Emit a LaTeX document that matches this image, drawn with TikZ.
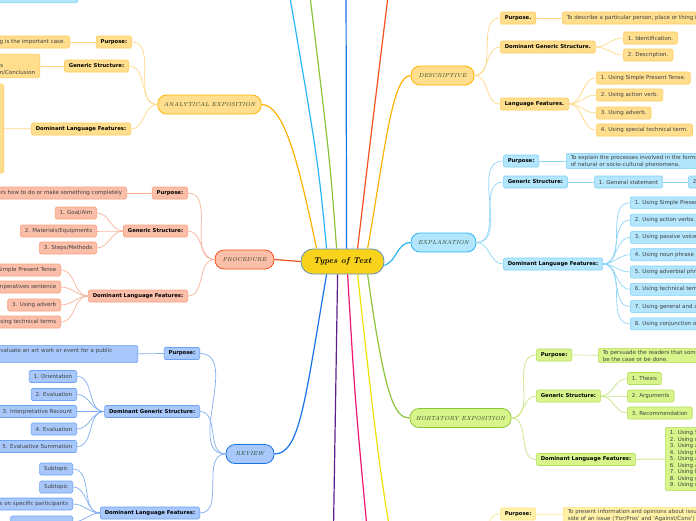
\documentclass[tikz,border=0pt]{standalone}
\usepackage{fontspec}
\newfontfamily\leaffont{DejaVu Sans}
\usetikzlibrary{calc}
% branch colours: F fill, D border, S sub lines, L main line
\definecolor{desF}{HTML}{FFDE8E}\definecolor{desD}{HTML}{FFCB5C}
\definecolor{desS}{HTML}{FFD985}\definecolor{desL}{HTML}{FFB300}
\definecolor{proF}{HTML}{FBBEA8}\definecolor{proD}{HTML}{F8A282}
\definecolor{proS}{HTML}{F9B39A}\definecolor{proL}{HTML}{F4511E}
\definecolor{expF}{HTML}{B3E5FC}\definecolor{expD}{HTML}{7FD2F8}
\definecolor{expS}{HTML}{90D6F8}\definecolor{expL}{HTML}{29B6F6}
\definecolor{horF}{HTML}{D8F58C}\definecolor{horD}{HTML}{B4DE5C}
\definecolor{horS}{HTML}{C6E684}\definecolor{horL}{HTML}{8CC43A}
\definecolor{revF}{HTML}{A8C8FC}\definecolor{revD}{HTML}{6EA2F2}
\definecolor{revS}{HTML}{80AEF2}\definecolor{revL}{HTML}{1A73E8}
\definecolor{disF}{HTML}{FFF2A8}\definecolor{disD}{HTML}{FFE37A}
\definecolor{disS}{HTML}{FFE98E}\definecolor{disL}{HTML}{F2E200}
\definecolor{purL}{HTML}{5B1F8A}\definecolor{pinL}{HTML}{F2146F}
\definecolor{ctrF}{HTML}{F9D31B}\definecolor{ctrD}{HTML}{5A8FBF}
\definecolor{ttl}{HTML}{24401F}
\tikzset{
  leaf/.style={draw=#1D, fill=#1F, rounded corners=1.5pt, line width=0.6pt,
    inner xsep=4.5pt, inner ysep=1.5pt, minimum height=12pt,
    font=\leaffont\fontsize{5.5}{7}\selectfont, text=black!75},
  head/.style={leaf=#1, font=\leaffont\bfseries\fontsize{5.3}{7}\selectfont, text=black},
  branch/.style={draw=#1L, fill=#1F, rounded corners=9pt, line width=0.8pt,
    minimum height=19pt, inner xsep=6pt, font=\itshape\fontsize{5.8}{7}\selectfont, text=ttl},
  sub/.style={draw=#1S, line width=0.7pt},
  main/.style={draw=#1, line width=1.2pt},
}
\begin{document}
\begin{tikzpicture}[x=1pt,y=-1pt]
\useasboundingbox (0,0) rectangle (696,520);
\fill[white] (0,0) rectangle (696,520);
\clip (0,0) rectangle (696,520);

\node[draw=ctrD, fill=ctrF, rounded corners=12pt, line width=0.8pt, minimum width=83pt,
  minimum height=25pt, font=\itshape\bfseries\fontsize{8.5}{10}\selectfont] (ctr) at (342.5,261.5) {Types of Text};

%% branch nodes
\node[branch=des, minimum width=63pt] (dN) at (442.5,75.5) {DESCRIPTIVE};
\node[branch=exp, minimum width=65pt] (eN) at (443.5,242.5) {EXPLANATION};
\node[branch=hor, minimum width=99pt] (hN) at (460.5,418) {HORTATORY EXPOSITION};
\node[branch=des, minimum width=103pt] (aN) at (209.5,104.5) {ANALYTICAL EXPOSITION};
\node[branch=pro, minimum width=59pt] (pN) at (244.5,259.5) {PROCEDURE};
\node[branch=rev, minimum width=48pt] (rN) at (250,454) {REVIEW};

%% nodes beyond the frame
\coordinate (upE) at (287,-20);
\coordinate (upH) at (308,-20);
\coordinate (upR) at (346,-20);
\coordinate (upP) at (390,-20);
\coordinate (dwU) at (333,560);
\coordinate (dwK) at (370,560);
\coordinate (xN) at (411,585);
\node[leaf=exp, anchor=south east, minimum width=100pt, minimum height=20pt] (tl) at (78,3) {};

%% main lines
\draw[main=desL] ([xshift=16pt]ctr.north west) .. controls (300,170) and (285,104.5) .. (aN.east);
\draw[main=expL] ([xshift=26pt]ctr.north west) .. controls (318,160) .. (upE);
\draw[main=horL] ([xshift=36pt]ctr.north west) .. controls (330,160) .. (upH);
\draw[main=revL] ([xshift=46pt]ctr.north west) -- (upR);
\draw[main=proL] ([xshift=57pt]ctr.north west) .. controls (368,160) .. (upP);
\draw[main=desL] ([xshift=67pt]ctr.north west) .. controls (385,150) and (392,75.5) .. (dN.west);
\draw[main=expL] ([yshift=-4pt]ctr.east) to[out=20,in=180] (eN.west);
\draw[main=proL] (ctr.west) -- (pN.east);
\draw[main=revL] ([xshift=26pt]ctr.south west) .. controls (305,400) and (300,454) .. (rN.east);
\draw[main=purL] ([xshift=37pt]ctr.south west) -- (dwU);
\draw[main=pinL] ([xshift=47pt]ctr.south west) .. controls (355,400) .. (dwK);
\draw[main=disL] ([xshift=57pt]ctr.south west) .. controls (378,460) and (392,585) .. (xN);
\draw[main=horL] ([xshift=67pt]ctr.south west) .. controls (385,400) and (395,418) .. (hN.west);

%% DESCRIPTIVE
\node[head=des, anchor=west] (dP) at (500,18) {Purpose.};
\node[leaf=des, anchor=west] (dPt) at (562,18) {To describe a particular person, place or thing in detail.};
\node[head=des, anchor=west] (dG) at (500,47) {Dominant Generic Structure.};
\node[leaf=des, anchor=west] (dG1) at (623,38) {1. Identification.};
\node[leaf=des, anchor=west] (dG2) at (623,55) {2. Description.};
\node[head=des, anchor=west] (dL) at (500,104) {Language Features.};
\node[leaf=des, anchor=west] (dL1) at (596,78) {1. Using Simple Present Tense.};
\node[leaf=des, anchor=west] (dL2) at (596,95) {2. Using action verb.};
\node[leaf=des, anchor=west] (dL3) at (596,113) {3. Using adverb.};
\node[leaf=des, anchor=west] (dL4) at (596,130) {4. Using special technical term.};
\foreach \c in {dP,dG,dL} \draw[sub=des] (dN.east) to[out=0,in=180] (\c.west);
\draw[sub=des] (dP) -- (dPt);
\foreach \c in {dG1,dG2} \draw[sub=des] (dG.east) to[out=0,in=180] (\c.west);
\foreach \c in {dL1,dL2,dL3,dL4} \draw[sub=des] (dL.east) to[out=0,in=180] (\c.west);

%% EXPLANATION
\node[head=exp, anchor=west] (eP) at (503,161) {Purpose:};
\node[leaf=exp, anchor=west, align=left] (ePt) at (566,161) {To explain the processes involved in the formation or workings\\of natural or socio-cultural phenomena.};
\node[head=exp, anchor=west] (eG) at (503,182) {Generic Structure:};
\node[leaf=exp, anchor=west] (eG1) at (594,182) {1. General statement};
\node[leaf=exp, anchor=west] (eG2) at (688,182) {2. Sequenced explanation};
\node[head=exp, anchor=west] (eL) at (503,264) {Dominant Language Features:};
\foreach \t [count=\i] in {Using Simple Present Tense, Using action verbs., Using passive voice,
  Using noun phrase, Using adverbial phrase, Using technical terms,
  Using general and abstract noun, Using conjunction of time and cause-effect}
  \node[leaf=exp, anchor=west] (eL\i) at (630,{185.5+17.3*\i}) {\i. \t};
\foreach \c in {eP,eG,eL} \draw[sub=exp] (eN.east) to[out=0,in=180] (\c.west);
\draw[sub=exp] (eP) -- (ePt);
\draw[sub=exp] (eG) -- (eG1);
\draw[sub=exp] (eG1) -- (eG2);
\foreach \i in {1,...,8} \draw[sub=exp] (eL.east) to[out=0,in=180] (eL\i.west);

%% HORTATORY EXPOSITION
\node[head=hor, anchor=west] (hP) at (536,355) {Purpose:};
\node[leaf=hor, anchor=west, align=left] (hPt) at (598,355.5) {To persuade the readers that something should or should not\\be the case or be done.};
\node[head=hor, anchor=west] (hG) at (536,396) {Generic Structure:};
\node[leaf=hor, anchor=west] (hG1) at (627,378.5) {1. Thesis};
\node[leaf=hor, anchor=west] (hG2) at (627,396) {2. Arguments};
\node[leaf=hor, anchor=west] (hG3) at (627,413) {3. Recommendation};
\node[head=hor, anchor=west] (hL) at (536,459.5) {Dominant Language Features:};
\node[leaf=hor, anchor=west, text width=60pt, align=left, inner ysep=3pt,
  font=\leaffont\fontsize{5.5}{6.5}\selectfont] (hLt) at (665,459)
  {1. Using S\\2. Using m\\3. Using a\\4. Using th\\5. Using a\\6. Using a\\7. Using b\\8. Using g\\9. Using c};
\foreach \c in {hP,hG,hL} \draw[sub=hor] (hN.east) to[out=0,in=180] (\c.west);
\draw[sub=hor] (hP) -- (hPt);
\foreach \c in {hG1,hG2,hG3} \draw[sub=hor] (hG.east) to[out=0,in=180] (\c.west);
\draw[sub=hor] (hL) -- (hLt);

%% DISCUSSION (below the frame)
\node[head=dis, anchor=west] (xP) at (500,514) {Purpose:};
\node[leaf=dis, anchor=west, align=left] (xPt) at (563,515) {To present information and opinions about issues in more than one\\side of an issue ('For/Pros' and 'Against/Cons')};
\draw[sub=dis] ([xshift=69pt]xN) to[out=0,in=180] (xP.west);
\draw[sub=dis] (xP) -- (xPt);

%% ANALYTICAL EXPOSITION
\node[head=des, anchor=east] (aP) at (132,42) {Purpose:};
\node[leaf=des, anchor=east] (aPt) at (70,42) {To persuade the readers or listeners that something is the important case.};
\node[head=des, anchor=east] (aG) at (129,66) {Generic Structure:};
\node[leaf=des, anchor=east, align=left, inner ysep=2.5pt] (aGt) at (40,66) {1. Thesis\\2. Arguments\\3. Reiteration/Conclusion};
\node[head=des, anchor=east] (aL) at (131,129) {Dominant Language Features:};
\node[leaf=des, anchor=east, minimum width=60pt, minimum height=89pt] (aLt) at (4,128.5) {};
\foreach \c in {aP,aG,aL} \draw[sub=des] (aN.west) to[out=180,in=0] (\c.east);
\draw[sub=des] (aP) -- (aPt);
\draw[sub=des] (aG) -- (aGt);
\draw[sub=des] (aL) -- (aLt);

%% PROCEDURE
\node[head=pro, anchor=east] (pP) at (188,193) {Purpose:};
\node[leaf=pro, anchor=east] (pPt) at (127,193) {To tell the readers how to do or make something completely};
\node[head=pro, anchor=east] (pG) at (188,231) {Generic Structure:};
\node[leaf=pro, anchor=east] (pG1) at (97,213) {1. Goal/Aim};
\node[leaf=pro, anchor=east] (pG2) at (97,231) {2. Materials/Equipments};
\node[leaf=pro, anchor=east] (pG3) at (97,248) {3. Steps/Methods};
\node[head=pro, anchor=east] (pL) at (188,296) {Dominant Language Features:};
\node[leaf=pro, anchor=east] (pL1) at (61,270) {1. Using Simple Present Tense};
\node[leaf=pro, anchor=east] (pL2) at (61,287) {2. Using imperatives sentence};
\node[leaf=pro, anchor=east] (pL3) at (61,305) {3. Using adverb};
\node[leaf=pro, anchor=east] (pL4) at (61,322) {4. Using technical terms};
\foreach \c in {pP,pG,pL} \draw[sub=pro] (pN.west) to[out=180,in=0] (\c.east);
\draw[sub=pro] (pP) -- (pPt);
\foreach \c in {pG1,pG2,pG3} \draw[sub=pro] (pG.west) to[out=180,in=0] (\c.east);
\foreach \c in {pL1,pL2,pL3,pL4} \draw[sub=pro] (pL.west) to[out=180,in=0] (\c.east);

%% REVIEW
\node[head=rev, anchor=east] (rP) at (200,353.5) {Purpose:};
\node[leaf=rev, anchor=east, text width=174pt, align=left, inner ysep=3pt] (rPt) at (138,354) {To critique or evaluate an art work or event for a public\\audience.};
\node[head=rev, anchor=east] (rG) at (200,411.5) {Dominant Generic Structure:};
\foreach \t/\y [count=\i] in {Orientation/376.5, Evaluation/394.5, Interpretative Recount/411.5,
  Evaluation/429, Evaluative Summation/446.5}
  \node[leaf=rev, anchor=east] (rG\i) at (77,\y) {\i. \t};
\node[head=rev, anchor=east] (rL) at (200,513) {Dominant Language Features:};
\node[leaf=rev, anchor=east] (rL1) at (73,469) {Subtopic};
\node[leaf=rev, anchor=east] (rL2) at (73,487) {Subtopic};
\node[leaf=rev, anchor=east] (rL3) at (73,504) {Focus on specific participants};
\node[leaf=rev, anchor=east, minimum width=62pt] (rL4) at (73,522) {};
\foreach \c in {rP,rG,rL} \draw[sub=rev] (rN.west) to[out=180,in=0] (\c.east);
\draw[sub=rev] (rP) -- (rPt);
\foreach \i in {1,...,5} \draw[sub=rev] (rG.west) to[out=180,in=0] (rG\i.east);
\foreach \i in {1,...,4} \draw[sub=rev] (rL.west) to[out=180,in=0] (rL\i.east);
\end{tikzpicture}
\end{document}
